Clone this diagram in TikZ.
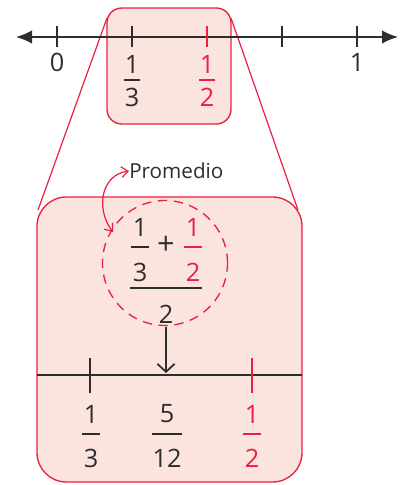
\documentclass[tikz,border=0pt]{standalone}
\usepackage{fontspec}
\setmainfont{Open Sans}
\usetikzlibrary{arrows.meta}
\definecolor{myred}{RGB}{232,32,66}
\definecolor{mypink}{RGB}{251,228,222}
\definecolor{mydark}{RGB}{45,45,45}
\begin{document}
\begin{tikzpicture}[x=0.75pt,y=-0.75pt,
  num/.style={font=\fontsize{19}{20}\selectfont, text=mydark, inner sep=0pt},
  rnum/.style={num, text=myred},
  fbar/.style={line width=2pt, mydark},
  rbar/.style={line width=2pt, myred},
  tick/.style={line width=1.1pt, mydark},
  box/.style={draw=myred, fill=mypink, line width=1pt},
  zoomline/.style={myred, line width=0.9pt}]
\useasboundingbox (0,0) rectangle (401,485);
% zoom lines
\coordinate (zl1) at (107,18);
\coordinate (zl2) at (38,210);
\coordinate (zr1) at (231,18);
\coordinate (zr2) at (298,210);
% big box
\draw[box, rounded corners=22pt] (37,197) rectangle (302,482);
\draw[zoomline] (zl1) -- (zl2);
\draw[zoomline] (zr1) -- (zr2);
% small box
\draw[box, rounded corners=11pt] (107,8) rectangle (231,124);
% top number line
\coordinate (la) at (16,37);
\coordinate (ra) at (398,37);
\draw[line width=1.2pt, mydark, {Latex[length=12pt,width=10pt]}-{Latex[length=12pt,width=10pt]}] (la) -- (ra);
\foreach \x in {57,132,282,357}{
  \draw[tick] (\x,26) -- (\x,47);
}
\draw[tick, myred] (207,26) -- (207,47);
\node[num] (l0) at (57,62) {0};
\node[num] (l1) at (357,62) {1};
\node[num] (a1) at (132,64) {1};
\draw[fbar, line width=1.5pt] (124,80) -- (140,80);
\node[num] (a3) at (132,97) {3};
\node[rnum] (b1) at (207,64) {1};
\draw[rbar, line width=1.5pt] (199,80) -- (215,80);
\node[rnum] (b2) at (207,97) {2};
% Promedio
\node[num, anchor=west, font=\fontsize{15.5}{16}\selectfont] (prom) at (129,171) {Promedio};
% dashed circle
\node[draw=myred, dash pattern=on 7pt off 5pt, line width=1pt, circle, minimum size=125*0.75pt, inner sep=0pt] (circ) at (165,263) {};
\coordinate (cstart) at (113,232);
\draw[myred, line width=0.9pt, {Straight Barb[length=5pt,width=8pt]}-{Straight Barb[length=5pt,width=8pt]}] (cstart) .. controls (96,210) and (100,175) .. (prom.west);
% fraction inside circle
\node[num] (c1) at (140,227) {1};
\draw[fbar] (131,247) -- (149,247);
\node[num] (c3) at (140,272) {3};
\node[num, font=\fontsize{23}{24}\selectfont] (plus) at (166,245) {+};
\node[rnum] (d1) at (193,227) {1};
\draw[rbar] (184,247) -- (202,247);
\node[rnum] (d2) at (193,272) {2};
\draw[fbar] (130,288) -- (202,288);
\node[num] (den) at (166,314) {2};
% down arrow
\coordinate (arrs) at (166,327);
\coordinate (arre) at (166,373);
\draw[line width=1.3pt, mydark, -{Straight Barb[length=6pt,width=13pt]}] (arrs) -- (arre);
% bottom number line
\coordinate (bl) at (37,375);
\coordinate (br) at (302,375);
\draw[line width=2pt, mydark] (bl) -- (br);
\draw[line width=2pt, mydark] (90,358) -- (90,393);
\draw[line width=2pt, myred] (252,358) -- (252,393);
\node[num] (e1) at (91,414) {1};
\draw[fbar] (82,434) -- (100,434);
\node[num] (e3) at (91,458) {3};
\node[num] (f5) at (167,414) {5};
\draw[fbar] (152,434) -- (182,434);
\node[num] (f12) at (167,458) {12};
\node[rnum] (g1) at (252,414) {1};
\draw[rbar] (243,434) -- (261,434);
\node[rnum] (g2) at (252,458) {2};
\end{tikzpicture}
\end{document}
